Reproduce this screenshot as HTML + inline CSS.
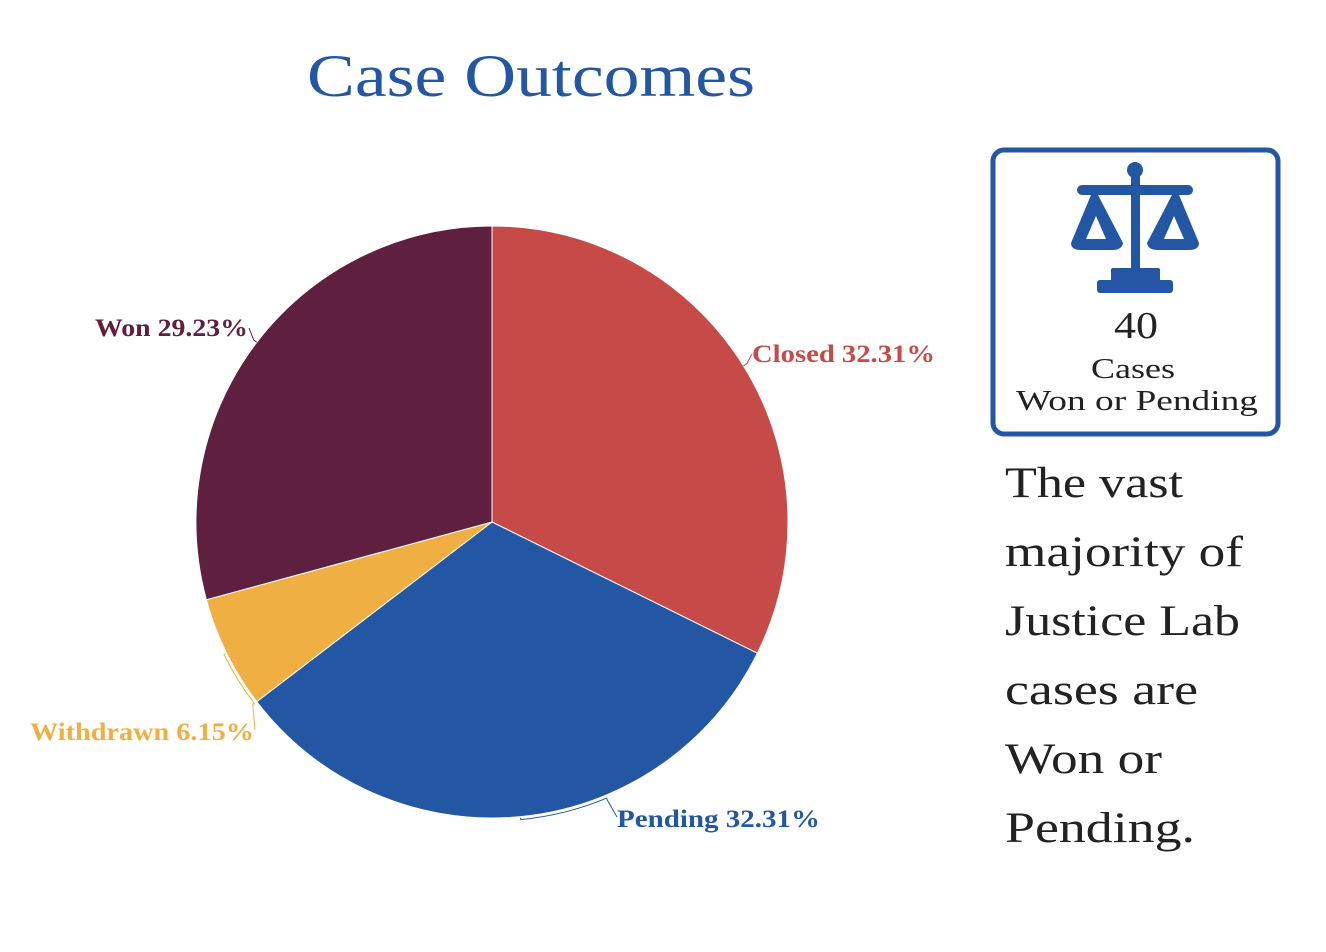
<!DOCTYPE html>
<html><head><meta charset="utf-8">
<style>
body{margin:0;background:#fff;}
svg{display:block;}
</style></head>
<body>
<svg id="chart" width="1326" height="952" xmlns="http://www.w3.org/2000/svg">
  <text x="307" y="96" textLength="448" lengthAdjust="spacingAndGlyphs" font-family="Liberation Serif, serif" font-size="60" fill="#2356a3">Case Outcomes</text>
  <g id="pie"></g>
  <g id="labels"></g>
  <g>
    <rect x="993" y="150" width="285" height="284" rx="11" fill="#fff" stroke="#2356a3" stroke-width="5"/>
    <g fill="#2356a3">
      <circle cx="1135" cy="170" r="8"/>
      <rect x="1131" y="170" width="9" height="104"/>
      <rect x="1077" y="185" width="116" height="10" rx="5"/>
      <path d="M1091 195 L1098 195 L1123 243 Q1122 250 1112 250 L1081 250 Q1071 250 1071 243 Z M1096 216 L1086 239 L1106 239 Z" fill-rule="evenodd"/>
      <path d="M1172 195 L1179 195 L1199 243 Q1199 250 1189 250 L1158 250 Q1148 250 1147 243 Z M1174 216 L1164 239 L1184 239 Z" fill-rule="evenodd"/>
      <rect x="1111" y="268" width="49" height="14" rx="2"/>
      <rect x="1097" y="280" width="76" height="13" rx="3"/>
    </g>
    <text x="1114" y="338" textLength="44" lengthAdjust="spacingAndGlyphs" font-family="Liberation Serif, serif" font-size="38" fill="#222">40</text>
    <text x="1091" y="378" textLength="84" lengthAdjust="spacingAndGlyphs" font-family="Liberation Serif, serif" font-size="29" fill="#222">Cases</text>
    <text x="1016" y="410" textLength="242" lengthAdjust="spacingAndGlyphs" font-family="Liberation Serif, serif" font-size="29" fill="#222">Won or Pending</text>
  </g>
  <g font-family="Liberation Serif, serif" font-size="43" fill="#222">
    <text x="1005" y="497" textLength="178" lengthAdjust="spacingAndGlyphs">The vast</text>
    <text x="1005" y="566" textLength="238" lengthAdjust="spacingAndGlyphs">majority of</text>
    <text x="1005" y="635" textLength="235" lengthAdjust="spacingAndGlyphs">Justice Lab</text>
    <text x="1005" y="704" textLength="193" lengthAdjust="spacingAndGlyphs">cases are</text>
    <text x="1005" y="773" textLength="157" lengthAdjust="spacingAndGlyphs">Won or</text>
    <text x="1005" y="842" textLength="190" lengthAdjust="spacingAndGlyphs">Pending.</text>
  </g>
</svg>
<script>
const categories = ["Closed", "Pending", "Withdrawn", "Won"];
const values = [32.31, 32.31, 6.15, 29.23];
const colors = ["#c64a47", "#2356a3", "#efaf42", "#5e203e"];
const labelText = ["Closed 32.31%", "Pending 32.31%", "Withdrawn 6.15%", "Won 29.23%"];

const NS = "http://www.w3.org/2000/svg";
const cx = 492, cy = 522, R = 296;
const total = values.reduce((a, b) => a + b, 0);
function pt(angDeg, r) { const a = angDeg * Math.PI / 180; return [cx + r * Math.sin(a), cy - r * Math.cos(a)]; }
const pie = document.getElementById("pie");
const labels = document.getElementById("labels");
const layout = [
  {x: 752, y: 362, w: 183, anchor: "start", arc: false},
  {x: 617, y: 827, w: 203, anchor: "start", arc: true},
  {x: 254, y: 740, w: 224, anchor: "end", arc: true},
  {x: 248, y: 336, w: 153, anchor: "end", arc: false}
];
let start = 0;
values.forEach((v, i) => {
  const sweep = v / total * 360;
  const end = start + sweep;
  const p0 = pt(start, R), p1 = pt(end, R);
  const path = document.createElementNS(NS, "path");
  path.setAttribute("d", `M${cx},${cy} L${p0[0]},${p0[1]} A${R},${R} 0 ${sweep > 180 ? 1 : 0} 1 ${p1[0]},${p1[1]} Z`);
  path.setAttribute("fill", colors[i]);
  path.setAttribute("stroke", "#fff");
  path.setAttribute("stroke-width", "1");
  
  
  pie.appendChild(path);

  const L = layout[i];
  const mid = start + sweep / 2;
  const line = document.createElementNS(NS, "path");
  let d;
  const lx = L.anchor === "end" ? L.x + 1 : L.x;
  if (L.arc) {
    const a1 = mid;
    const a2 = (i === 2) ? start : mid - 17;
    const q1 = pt(a1, R + 3), q2 = pt(a2, R + 3);
    const e1 = pt(a1, R + 1), e2 = pt(a2, R + 5);
    d = `M${e1[0]},${e1[1]} L${q1[0]},${q1[1]} A${R+3},${R+3} 0 0 0 ${q2[0]},${q2[1]} L${e2[0]},${e2[1]} L${lx},${L.y - 10}`;
  } else {
    const e = pt(mid, R), f = pt(mid, R + 4);
    d = `M${e[0]},${e[1]} L${f[0]},${f[1]} L${lx},${L.y - 8}`;
  }
  line.setAttribute("d", d);
  line.setAttribute("fill", "none");
  line.setAttribute("stroke", colors[i]);
  line.setAttribute("stroke-width", "1");
  
  
  labels.appendChild(line);

  const t = document.createElementNS(NS, "text");
  t.setAttribute("x", L.x);
  t.setAttribute("y", L.y);
  t.setAttribute("text-anchor", L.anchor);
  t.setAttribute("textLength", L.w);
  t.setAttribute("lengthAdjust", "spacingAndGlyphs");
  t.setAttribute("font-family", "Liberation Serif, serif");
  t.setAttribute("font-weight", "bold");
  t.setAttribute("font-size", "25");
  t.setAttribute("fill", colors[i]);
  t.textContent = labelText[i];
  
  
  labels.appendChild(t);
  start = end;
});
</script>
</body></html>
